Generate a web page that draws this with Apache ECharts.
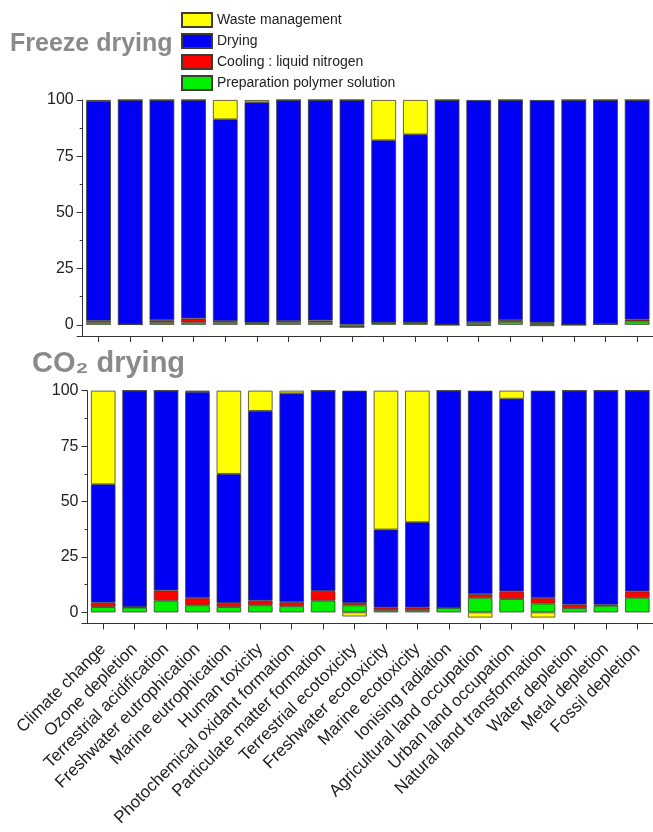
<!DOCTYPE html>
<html>
<head>
<meta charset="utf-8">
<script src="https://cdn.jsdelivr.net/npm/echarts@6/dist/echarts.min.js"></script>
<style>
html,body{margin:0;padding:0;background:#fff;}
#chart{width:653px;height:832px;}
</style>
</head>
<body>
<div id="chart"></div>
<script>
// ---- Data ----
const categories = [
  'Climate change','Ozone depletion','Terrestrial acidification','Freshwater eutrophication',
  'Marine eutrophication','Human toxicity','Photochemical oxidant formation','Particulate matter formation',
  'Terrestrial ecotoxicity','Freshwater ecotoxicity','Marine ecotoxicity','Ionising radiation',
  'Agricultural land occupation','Urban land occupation','Natural land transformation','Water depletion',
  'Metal depletion','Fossil depletion'
];
const seriesNames = ['Waste management','Drying','Cooling : liquid nitrogen','Preparation polymer solution'];
const yTicks = [0, 25, 50, 75, 100];

// Freeze drying (%)
const fdPreparation = [1.0, 0.2, 1.0, 1.0, 1.0, 0.6, 1.0, 1.0, -1.0, 0.8, 0.8, 0.0, 1.0, 1.3, 0.6, 0.0, 0.4, 1.5];
const fdCooling     = [0.8, 0.0, 1.0, 1.8, 0.6, 0.3, 0.6, 0.9, 0.0, 0.2, 0.2, 0.0, 0.3, 0.8, 0.3, 0.0, 0.0, 0.8];
const fdDrying      = [97.7, 99.8, 98.0, 97.2, 89.8, 98.1, 98.4, 98.1, 100, 81.1, 83.7, 100, 98.7, 97.9, 99.1, 100, 99.6, 97.7];
const fdWaste       = [0.5, 0.0, 0.0, 0.0, 8.6, 1.0, 0.0, 0.0, 0.0, 17.9, 15.3, 0.0, -0.5, 0.0, -0.6, 0.0, 0.0, 0.0];

// CO2 drying (%)
const co2Preparation = [2.4, 2.2, 5.3, 3.2, 2.4, 3.2, 2.8, 5.3, 3.2, 1.0, 1.0, 2.1, 6.6, 6.0, 4.0, 1.9, 3.0, 6.6];
const co2Cooling     = [2.0, 0.2, 4.6, 3.4, 1.8, 2.1, 1.8, 4.3, 1.0, 1.2, 1.2, 0.0, 1.6, 3.5, 2.6, 1.6, 0.5, 2.9];
const co2Drying      = [53.4, 97.6, 90.1, 92.9, 58.3, 85.6, 94.2, 90.4, 95.8, 35.2, 38.5, 97.9, 91.8, 86.9, 93.4, 96.5, 96.5, 90.5];
const co2Waste       = [42.2, 0.0, 0.0, 0.5, 37.5, 9.1, 1.2, 0.0, -1.8, 62.6, 59.3, 0.0, -2.3, 3.6, -2.3, 0.0, 0.0, 0.0];

// ---- Styles ----
const colors = {
  'Waste management': '#FFFF00',
  'Drying': '#0000F5',
  'Cooling : liquid nitrogen': '#FF0000',
  'Preparation polymer solution': '#00F000'
};
const FONT = "'Liberation Sans', Arial, sans-serif";
const axisColor = '#333';

function yAxisCfg(gridIndex) {
  return {
    type: 'value', gridIndex: gridIndex,
    min: -5, max: yTicks[yTicks.length - 1],
    minInterval: yTicks[1] - yTicks[0], maxInterval: yTicks[1] - yTicks[0], splitNumber: 4,
    axisLine: { show: true, lineStyle: { color: axisColor, width: 1 } },
    axisTick: { show: true, length: 6, lineStyle: { color: axisColor } },
    minorTick: { show: true, splitNumber: 2, length: 3, lineStyle: { color: axisColor } },
    splitLine: { show: false },
    axisLabel: {
      color: '#222', fontSize: 16, fontFamily: FONT, margin: 9,
      formatter: v => (yTicks.indexOf(v) >= 0 ? String(v) : '')
    }
  };
}
function xAxisCfg(gridIndex, showLabels) {
  return {
    type: 'category', gridIndex: gridIndex, data: categories,
    axisLine: { show: true, onZero: false, lineStyle: { color: axisColor, width: 1 } },
    axisTick: { show: true, alignWithLabel: true, length: 6, interval: 0, lineStyle: { color: axisColor } },
    axisLabel: {
      show: showLabels, interval: 0, rotate: 45, color: '#222', fontSize: 17, fontFamily: FONT, margin: 23
    }
  };
}
function makeSeries(name, data, idx, stack) {
  return {
    name: name, type: 'bar', stack: stack, data: data,
    xAxisIndex: idx, yAxisIndex: idx, barWidth: '78%',
    itemStyle: { color: colors[name], borderColor: '#3d3d30', borderWidth: 0.8 },
    emphasis: { disabled: true }
  };
}

const option = {
  backgroundColor: '#fff',
  animation: false,
  title: [
    { text: 'Freeze drying', left: 10, top: 32, padding: 0,
      textStyle: { fontSize: 25, fontWeight: 'bold', color: '#8a8a8a', fontFamily: FONT } },
    { text: 'CO₂ drying', left: 32, top: 349, padding: 0,
      textStyle: { fontSize: 29, fontWeight: 'bold', color: '#8a8a8a', fontFamily: FONT } }
  ],
  legend: {
    data: seriesNames, orient: 'vertical', left: 176, top: 7,
    icon: 'rect', itemWidth: 30, itemHeight: 14, itemGap: 5,
    textStyle: { fontSize: 14, color: '#222', fontFamily: FONT },
    selectedMode: false
  },
  grid: [
    { left: 82.7, right: 0, top: 100, height: 236, containLabel: false },
    { left: 87.5, right: 0, top: 390.7, height: 232.8, containLabel: false }
  ],
  xAxis: [xAxisCfg(0, false), xAxisCfg(1, true)],
  yAxis: [yAxisCfg(0), yAxisCfg(1)],
  series: [
    makeSeries('Preparation polymer solution', fdPreparation, 0, 'fd'),
    makeSeries('Cooling : liquid nitrogen', fdCooling, 0, 'fd'),
    makeSeries('Drying', fdDrying, 0, 'fd'),
    makeSeries('Waste management', fdWaste, 0, 'fd'),
    makeSeries('Preparation polymer solution', co2Preparation, 1, 'co2'),
    makeSeries('Cooling : liquid nitrogen', co2Cooling, 1, 'co2'),
    makeSeries('Drying', co2Drying, 1, 'co2'),
    makeSeries('Waste management', co2Waste, 1, 'co2')
  ]
};
const chart = echarts.init(document.getElementById('chart'), null, { renderer: 'canvas' });
chart.setOption(option);
</script>
</body>
</html>
